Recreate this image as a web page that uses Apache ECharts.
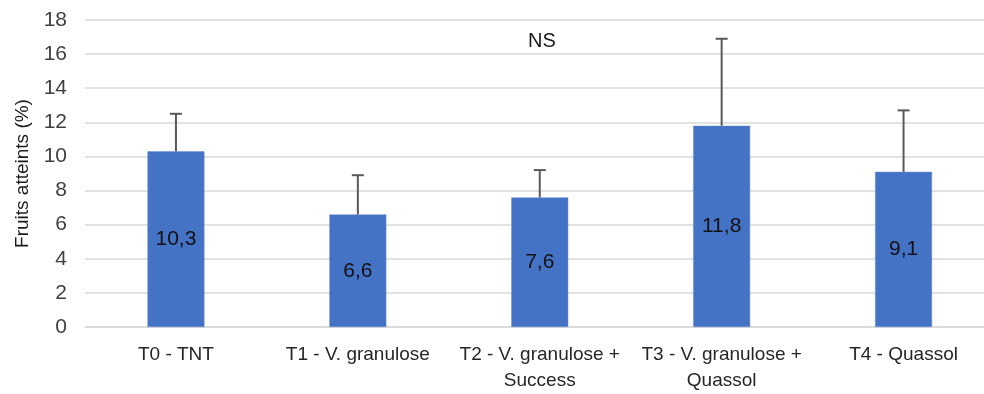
<!DOCTYPE html>
<html>
<head>
<meta charset="utf-8">
<script src="https://cdn.jsdelivr.net/npm/echarts@6/dist/echarts.min.js"></script>
<style>
html,body{margin:0;padding:0;background:#fff;overflow:hidden;width:984px;height:394px;}
#c{width:995px;height:394px;}
</style>
</head>
<body>
<div id="c"></div>
<script>
var categories = ["T0 - TNT", "T1 - V. granulose", "T2 - V. granulose +\nSuccess", "T3 - V. granulose +\nQuassol", "T4 - Quassol"];
var means = [10.3, 6.6, 7.6, 11.8, 9.1];
var errors = [2.2, 2.3, 1.6, 5.1, 3.6];
var yTicks = [0, 2, 4, 6, 8, 10, 12, 14, 16, 18];
var annotation = "NS";

var FONT = '"Liberation Sans Narrow", "Arial Narrow", "Liberation Sans", sans-serif';
var chart = echarts.init(document.getElementById('c'), null, {renderer: 'canvas'});

var errData = means.map(function (m, i) { return [i, m, m + errors[i]]; });

chart.setOption({
  animation: false,
  backgroundColor: '#ffffff',
  grid: {left: 85, right: 0.5, top: 20, bottom: 64.7, containLabel: false},
  graphic: [{
    type: 'text', left: 528, top: 31,
    style: {text: annotation, fontFamily: FONT, fontSize: 20, fill: '#1a1a1a'}
  }],
  xAxis: {
    type: 'category',
    data: categories,
    axisLine: {show: true, lineStyle: {color: '#d9d9d9', width: 1.5}},
    axisTick: {show: false},
    axisLabel: {fontFamily: FONT, fontSize: 19, color: '#262626', margin: 15, lineHeight: 26, interval: 0}
  },
  yAxis: {
    type: 'value',
    min: yTicks[0], max: yTicks[yTicks.length - 1], interval: 2,
    name: 'Fruits atteints (%)',
    nameLocation: 'middle', nameGap: 48,
    nameTextStyle: {fontFamily: FONT, fontSize: 19, color: '#1a1a1a'},
    axisLine: {show: false},
    axisTick: {show: false},
    axisLabel: {fontFamily: FONT, fontSize: 21, color: '#404040', margin: 18},
    splitLine: {lineStyle: {color: '#d9d9d9', width: 1.5}}
  },
  series: [{
    type: 'bar',
    data: means,
    barWidth: 57,
    itemStyle: {color: '#4472c4', borderColor: '#6f93d3', borderWidth: 0.5},
    label: {
      show: true, position: 'inside', fontFamily: FONT, fontSize: 21, color: '#111111',
      formatter: function (p) { return String(p.value).replace('.', ','); }
    }
  }, {
    type: 'custom',
    data: errData,
    z: 5,
    renderItem: function (params, api) {
      var x = api.value(0);
      var base = api.coord([x, api.value(1)]);
      var top = api.coord([x, api.value(2)]);
      var hw = 6;
      var st = {stroke: '#595959', lineWidth: 2};
      return {
        type: 'group',
        children: [
          {type: 'line', shape: {x1: base[0], y1: base[1], x2: top[0], y2: top[1]}, style: st},
          {type: 'line', shape: {x1: top[0] - hw, y1: top[1], x2: top[0] + hw, y2: top[1]}, style: st}
        ]
      };
    }
  }]
});
</script>
</body>
</html>
